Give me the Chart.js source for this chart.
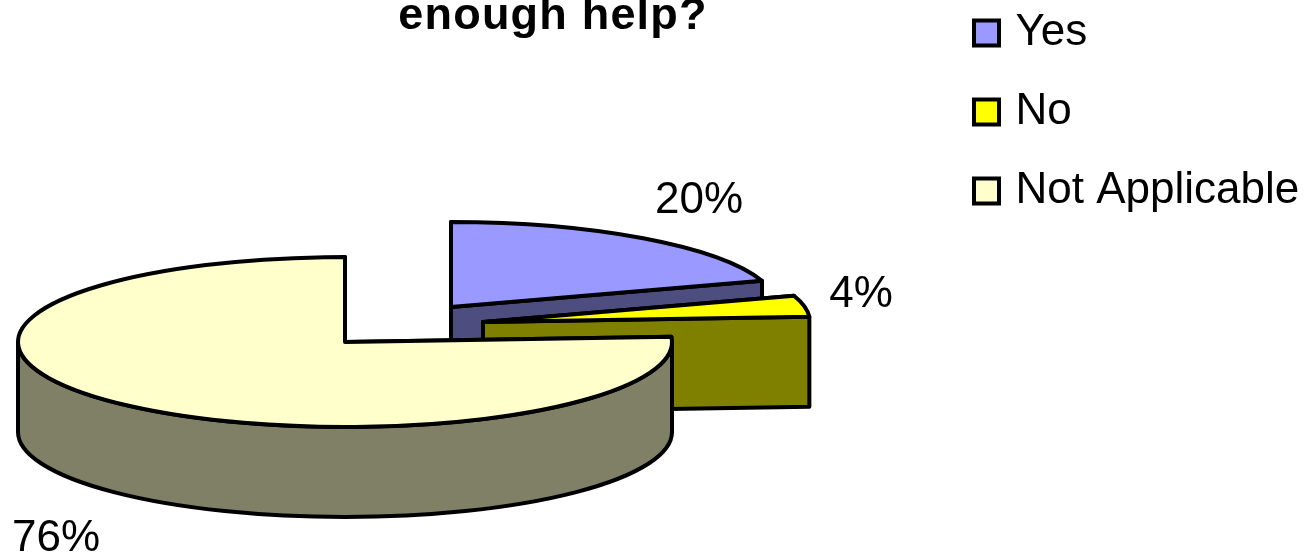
<!DOCTYPE html>
<html>
<head>
<meta charset="utf-8">
<script src="https://cdn.jsdelivr.net/npm/chart.js@4/dist/chart.umd.min.js"></script>
<style>
  html, body { margin: 0; padding: 0; background: #fff; overflow: hidden; }
  #wrap { width: 1307px; height: 555px; }
</style>
</head>
<body>
<div id="wrap"><canvas id="chart"></canvas></div>
<script>
const categories = ["Yes", "No", "Not Applicable"];
const percents = [20, 4, 76];
const titleText = "enough help?";

const topColors = ["#9999FF", "#FFFF00", "#FFFFCC"];
const sideColors = ["#4D4D80", "#808000", "#808066"];

// where each exploded slice has its tip, and how the pie is tilted
const sliceTips = [[451, 307], [483, 322], [345, 342]];
const labelSpots = [[699, 201], [861, 295], [56, 539]];
const pieRadius = 327;
const tilt = 0.26;
const depth = 90;

const pie3d = {
  id: "pie3d",
  afterLayout(chart) {
    // title sits over the pie, legend hugs the top right corner
    const title = chart.titleBlock;
    title.left = 253;
    title.right = 853;
    title.top = -10;
    if (!title.spaced) {
      const drawTitle = title.draw;
      title.draw = function () {
        this.ctx.save();
        this.ctx.letterSpacing = "1.2px";
        drawTitle.call(this);
        this.ctx.restore();
      };
      title.spaced = true;
    }
    chart.legend.left = 979.5 - 35;
    chart.legend.top = -24;
  },
  beforeDatasetsDraw(chart) {
    const ctx = chart.ctx;
    const arcs = chart.getDatasetMeta(0).data;
    ctx.save();
    ctx.lineWidth = 4;
    ctx.lineJoin = "round";
    ctx.strokeStyle = "#000";
    arcs.forEach((arc, i) => {
      const [cx, cy] = sliceTips[i];
      const rx = arc.outerRadius;
      const ry = rx * tilt;
      const a0 = arc.startAngle;
      const a1 = arc.endAngle;
      const edge = a => [cx + rx * Math.cos(a), cy + ry * Math.sin(a)];

      // cut faces
      ctx.fillStyle = sideColors[i];
      [a0, a1].forEach(a => {
        const [ex, ey] = edge(a);
        ctx.beginPath();
        ctx.moveTo(cx, cy);
        ctx.lineTo(ex, ey);
        ctx.lineTo(ex, ey + depth);
        ctx.lineTo(cx, cy + depth);
        ctx.closePath();
        ctx.fill();
        ctx.stroke();
      });

      // outer wall, only the part facing the viewer
      const from = Math.max(a0, 0);
      const to = Math.min(a1, Math.PI);
      if (to > from) {
        const [sx, sy] = edge(from);
        const [tx, ty] = edge(to);
        ctx.beginPath();
        ctx.moveTo(sx, sy);
        ctx.ellipse(cx, cy, rx, ry, 0, from, to);
        ctx.lineTo(tx, ty + depth);
        ctx.ellipse(cx, cy + depth, rx, ry, 0, to, from, true);
        ctx.closePath();
        ctx.fill();
        ctx.stroke();
      }

      // top face
      ctx.fillStyle = topColors[i];
      ctx.beginPath();
      ctx.moveTo(cx, cy);
      ctx.ellipse(cx, cy, rx, ry, 0, a0, a1);
      ctx.closePath();
      ctx.fill();
      ctx.stroke();
    });

    ctx.fillStyle = "#000";
    ctx.font = '44px "Liberation Sans"';
    ctx.textAlign = "center";
    ctx.textBaseline = "middle";
    percents.forEach((p, i) => {
      ctx.fillText(p + "%", labelSpots[i][0], labelSpots[i][1]);
    });
    ctx.restore();
    return false; // the flat pie is replaced by the drawing above
  }
};

new Chart(document.getElementById("chart"), {
  type: "pie",
  data: {
    labels: categories,
    datasets: [{
      data: percents,
      backgroundColor: topColors,
      borderColor: "#000",
      borderWidth: 4,
      radius: pieRadius
    }]
  },
  options: {
    responsive: true,
    maintainAspectRatio: false,
    animation: false,
    plugins: {
      tooltip: { enabled: false },
      title: {
        display: true,
        text: titleText,
        color: "#000",
        font: { family: '"Liberation Sans"', size: 45, weight: "bold" },
        padding: 0
      },
      legend: {
        position: "right",
        align: "start",
        labels: {
          color: "#000",
          font: { family: '"Liberation Sans"', size: 44 },
          usePointStyle: true,
          pointStyle: "rect",
          boxWidth: 14,
          boxHeight: 25,
          padding: 35
        }
      }
    }
  },
  plugins: [pie3d]
});
</script>
</body>
</html>
